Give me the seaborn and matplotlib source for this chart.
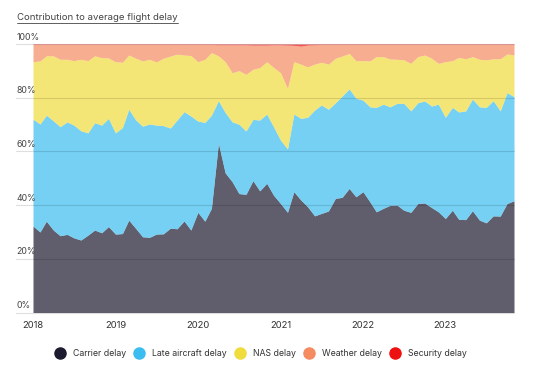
import numpy as np
import pandas as pd
import matplotlib
matplotlib.use("Agg")
import matplotlib.pyplot as plt
import seaborn as sns
from matplotlib.lines import Line2D

# ---- data (percent; cumulative boundaries) ----
months = pd.date_range("2018-01-01", periods=71, freq="MS")

carrier_top = [32.2, 30.0, 34.0, 30.7, 28.6, 29.1, 27.8, 27.0, 28.8, 30.7, 29.7, 32.0,
               29.2, 29.4, 34.4, 31.3, 28.2, 28.0, 29.2, 29.3, 31.4, 31.2, 34.1, 30.7,
               37.3, 34.0, 38.8, 63.0, 52.0, 48.7, 44.3, 44.0, 49.1, 45.3, 48.1, 43.7,
               40.6, 37.3, 45.0, 41.9, 39.4, 36.0, 36.9, 37.8, 42.5, 42.9, 46.2, 43.1,
               45.0, 41.2, 37.5, 38.8, 39.9, 40.0, 38.1, 37.3, 40.6, 40.8, 39.1, 37.5,
               35.0, 38.1, 34.7, 34.6, 37.9, 34.4, 33.4, 36.0, 35.9, 40.6, 41.6]

late_top = [72.0, 70.2, 73.5, 71.4, 69.2, 71.0, 69.8, 67.7, 66.9, 70.7, 69.8, 72.3,
            66.9, 68.9, 75.7, 71.7, 69.4, 70.2, 69.8, 69.6, 68.7, 71.7, 74.8, 73.2,
            71.3, 70.8, 73.5, 78.9, 74.5, 71.0, 70.1, 67.6, 71.9, 71.7, 73.9, 69.2,
            64.2, 60.9, 73.9, 72.3, 72.7, 75.4, 77.3, 75.7, 78.1, 80.6, 83.3, 79.8,
            79.1, 76.6, 76.4, 77.6, 76.6, 77.9, 77.9, 75.1, 78.1, 78.8, 76.9, 77.6,
            72.7, 76.4, 74.7, 75.1, 79.5, 76.6, 76.4, 78.9, 75.1, 81.9, 80.4]

nas_top = [93.4, 93.7, 95.6, 95.6, 94.3, 94.3, 93.8, 94.3, 93.8, 95.6, 94.9, 94.8,
           93.4, 93.2, 95.9, 94.7, 93.7, 94.3, 93.3, 94.7, 95.5, 96.2, 95.9, 95.7,
           93.4, 94.3, 96.8, 95.6, 93.4, 89.3, 90.1, 88.7, 90.6, 91.2, 93.4, 91.3,
           89.3, 83.5, 93.4, 92.5, 91.5, 92.5, 93.2, 92.5, 94.7, 95.5, 96.5, 93.8,
           93.8, 93.7, 95.3, 95.3, 94.4, 94.3, 94.1, 92.8, 95.3, 95.9, 94.7, 92.8,
           93.4, 93.8, 95.0, 94.5, 95.3, 94.3, 94.1, 94.5, 94.5, 96.3, 95.9]

security = [0.2, 0.2, 0.2, 0.2, 0.2, 0.2, 0.2, 0.2, 0.2, 0.2, 0.2, 0.2,
            0.2, 0.2, 0.2, 0.2, 0.2, 0.2, 0.2, 0.2, 0.2, 0.2, 0.2, 0.2,
            0.2, 0.2, 0.2, 0.3, 0.3, 0.3, 0.3, 0.3, 0.4, 0.4, 0.4, 0.3,
            0.3, 0.4, 0.5, 0.8, 0.4, 0.3, 0.2, 0.2, 0.2, 0.2, 0.2, 0.2,
            0.2, 0.2, 0.2, 0.2, 0.2, 0.2, 0.2, 0.2, 0.2, 0.2, 0.2, 0.2,
            0.2, 0.2, 0.2, 0.2, 0.2, 0.2, 0.2, 0.2, 0.2, 0.2, 0.2]

series_names = ["Carrier delay", "Late aircraft delay", "NAS delay",
                "Weather delay", "Security delay"]
colors = ["#1c1a2e", "#3bbdf0", "#f0dc3c", "#f58b60", "#ee1111"]
year_ticks = [2018, 2019, 2020, 2021, 2022, 2023]
y_ticks = [0, 20, 40, 60, 80, 100]

carrier = np.array(carrier_top)
late = np.array(late_top) - carrier
nas = np.array(nas_top) - np.array(late_top)
sec = np.array(security)
weather = 100 - sec - np.array(nas_top)

# ---- style ----
sns.set_theme(style="white")
plt.rcParams["font.family"] = ["Inter", "DejaVu Sans"]
palette = sns.color_palette(colors)

W, H = 538, 375
fig = plt.figure(figsize=(W / 100, H / 100), dpi=100)
ax = fig.add_axes([33 / W, 1 - 312.5 / H, 481 / W, 268.5 / H])

ax.stackplot(months, carrier, late, nas, weather, sec,
             colors=palette, alpha=0.7, linewidth=0)
ax.set_xlim(months[0], months[-1])
ax.set_ylim(0, 100)
for s in ax.spines.values():
    s.set_visible(False)

# gridlines extending left of plot, labels above them
yt = ax.get_yaxis_transform()
for v in y_ticks:
    ax.plot([-0.035, 1.0], [v, v], transform=yt, clip_on=False,
            color=(0, 0, 0, 0.13), lw=0.8, zorder=3)
    ax.text(-0.034, v + 0.9, f"{v}%", transform=yt, ha="left", va="bottom",
            fontsize=6.3, color="#444444")
ax.set_yticks([])

ax.set_xticks([pd.Timestamp(f"{y}-01-01") for y in year_ticks])
ax.set_xticklabels([str(y) for y in year_ticks])
ax.tick_params(axis="x", length=0, pad=6, labelsize=6.8, colors="#333333")

# title (underlined)
t = fig.text(17 / W, 1 - 17.5 / H, "Contribution to average flight delay",
             fontsize=6.9, ha="left", va="center", color="#444444")
fig.canvas.draw()
bb = t.get_window_extent()
fig.add_artist(Line2D([bb.x0 / W, bb.x1 / W], [(bb.y0 - 1) / H] * 2,
                      transform=fig.transFigure, color="#444444", lw=0.6))

handles = [Line2D([], [], marker="o", linestyle="", markersize=8,
                  markerfacecolor=c, markeredgecolor=c) for c in palette]
fig.legend(handles, series_names, loc="center", bbox_to_anchor=(261 / W, 1 - 354 / H),
           ncol=5, frameon=False, fontsize=6.3, handletextpad=1.0,
           columnspacing=1.0, handlelength=1.0, labelcolor="#333333")

fig.savefig("out.png", dpi=100, facecolor="white")
